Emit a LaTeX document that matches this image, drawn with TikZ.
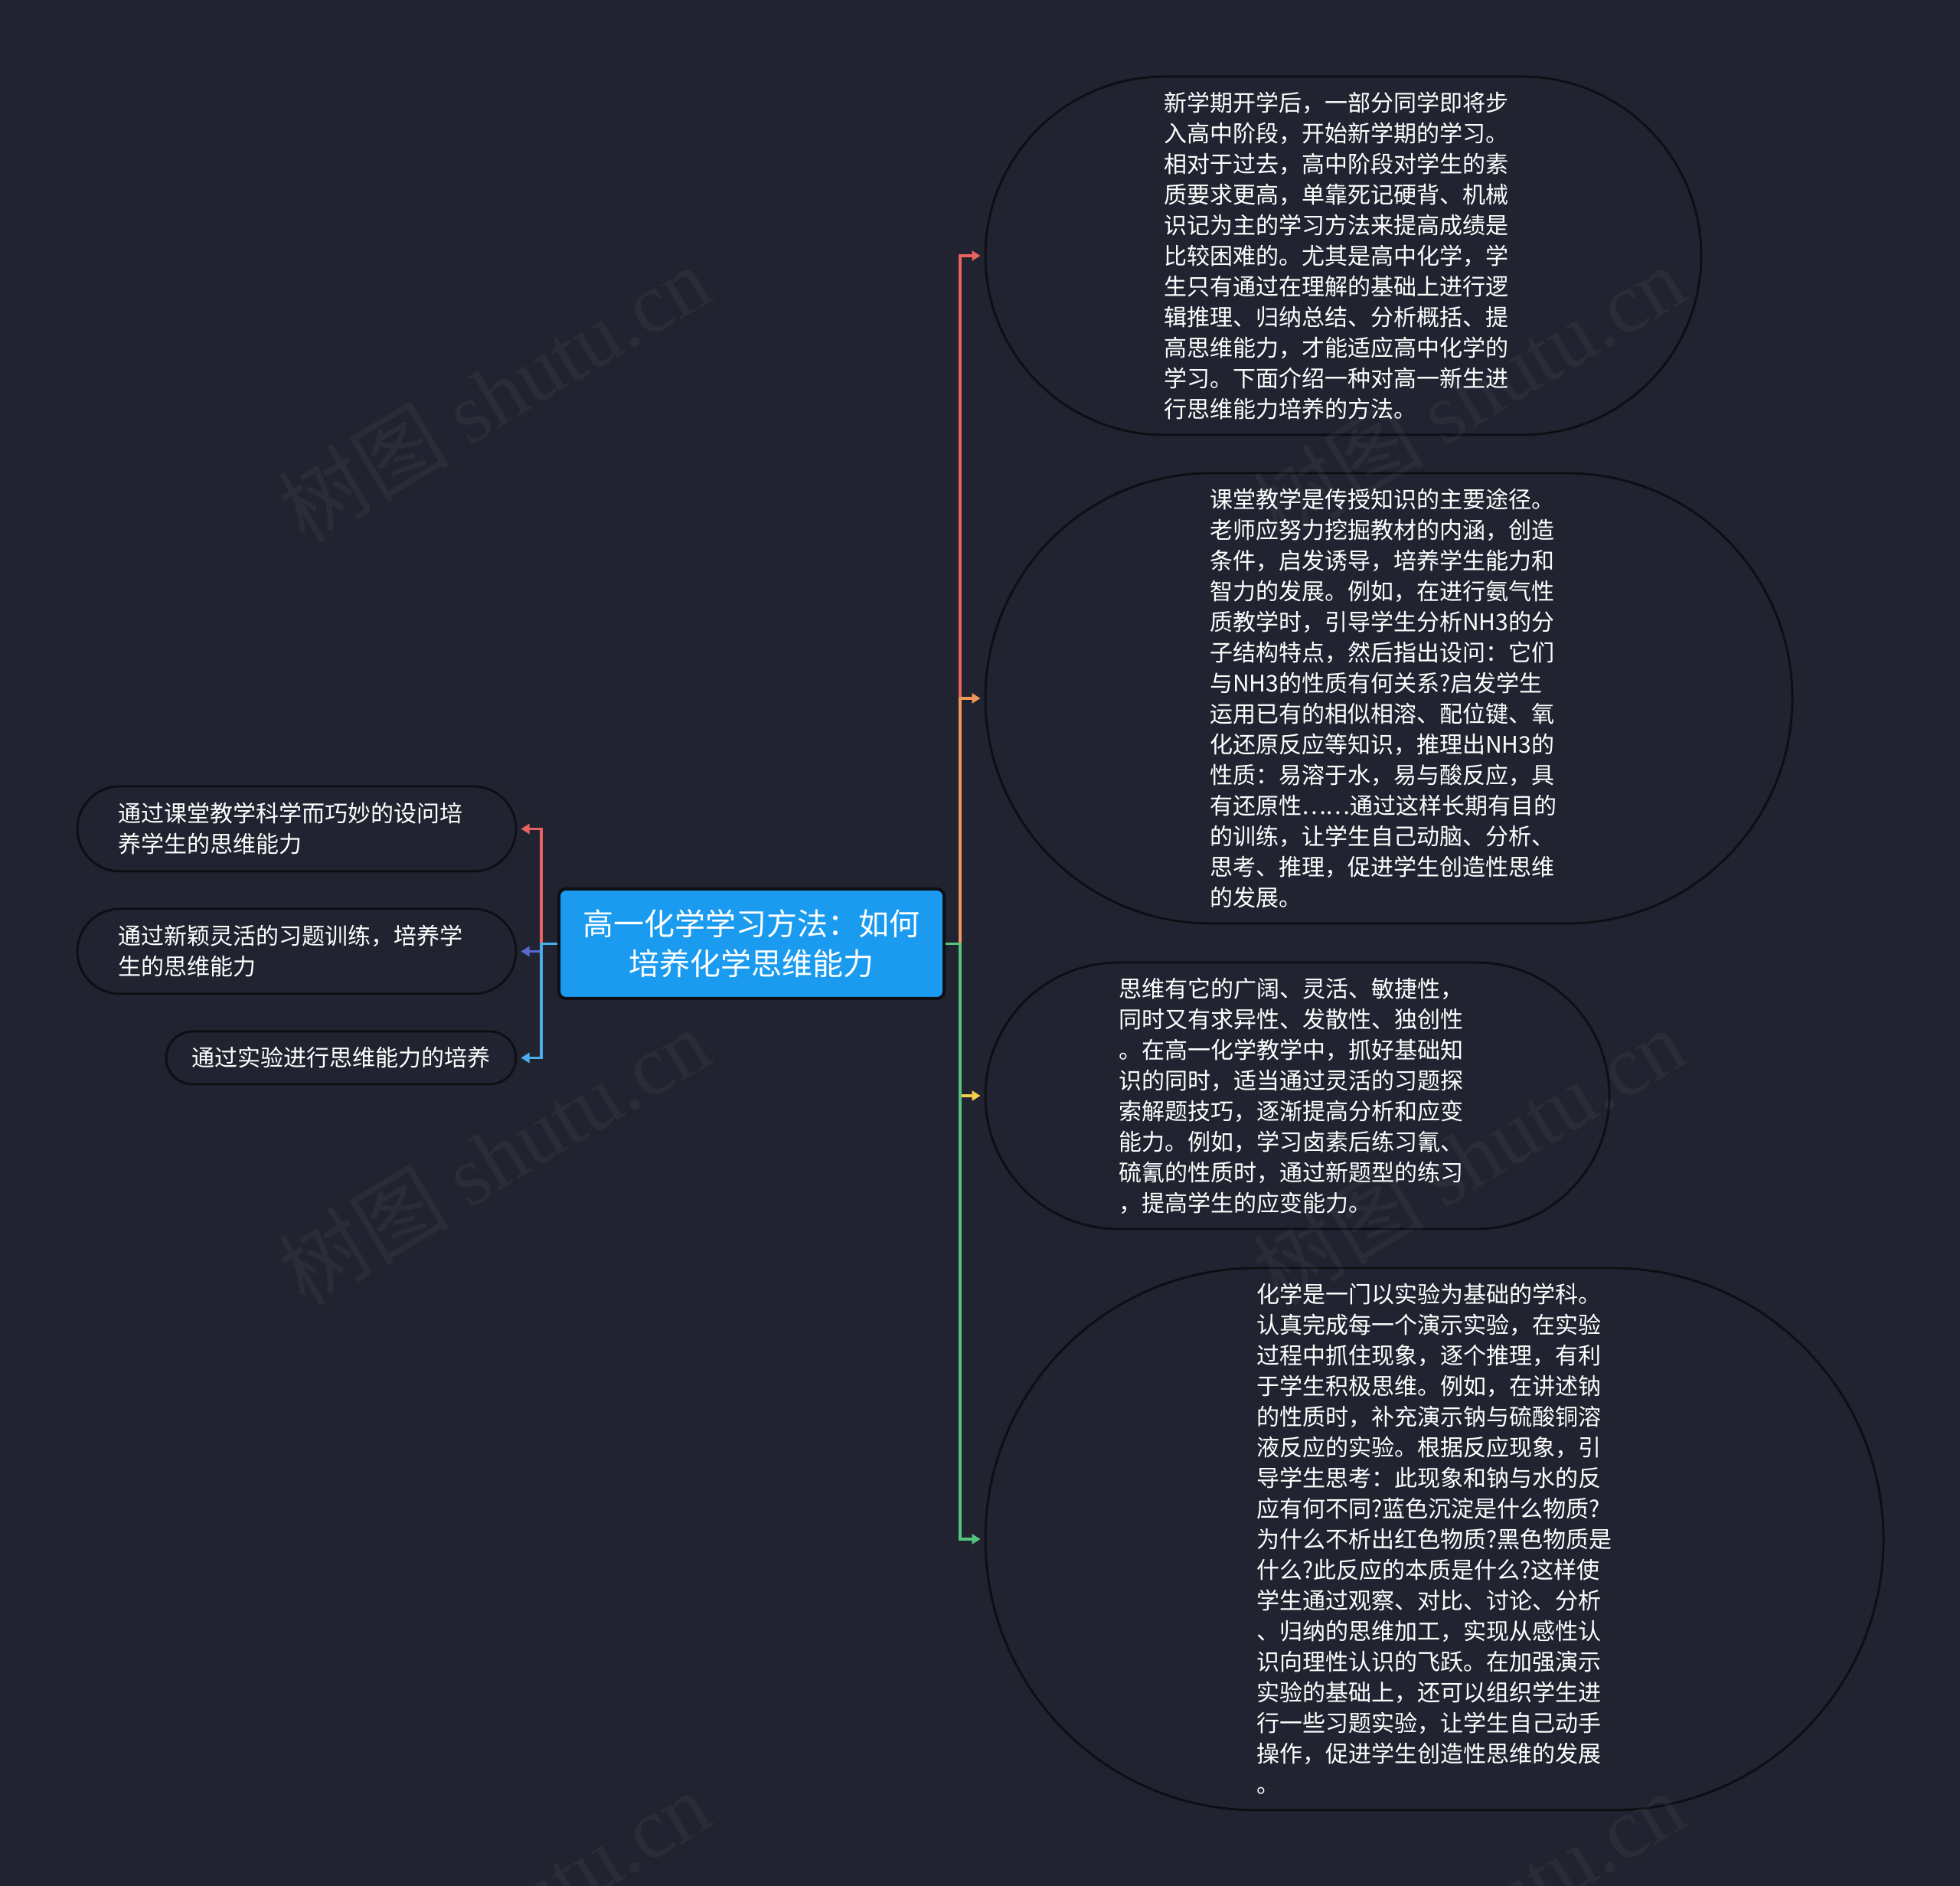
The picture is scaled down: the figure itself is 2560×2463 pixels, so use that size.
\documentclass[tikz,border=0pt]{standalone}
\usepackage{fontspec}
\setmainfont{Noto Sans CJK SC}
\newfontfamily\cjk{Noto Sans CJK SC}
\newfontfamily\wmserif{Liberation Serif}
\usetikzlibrary{arrows.meta,shapes.misc}
\definecolor{bgc}{HTML}{212430}
\definecolor{cred}{HTML}{E8625F}
\definecolor{corange}{HTML}{F0965A}
\definecolor{cyellow}{HTML}{F4CE48}
\definecolor{cgreen}{HTML}{52C67F}
\definecolor{cviolet}{HTML}{5A68D2}
\definecolor{cblue}{HTML}{4BAEEA}
\definecolor{cmain}{HTML}{1A9BF0}
\definecolor{edgec}{HTML}{0E0F14}
\tikzset{
  x=1pt,y=1pt,
  stad/.style={rounded rectangle, draw=edgec, line width=3pt, fill=bgc, inner sep=0pt},
  mainbox/.style={rectangle, rounded corners=9pt, draw=edgec, line width=4pt, fill=cmain,
    inner sep=0pt, text=white, align=center, font=\fontsize{40pt}{52pt}\selectfont},
  txt/.style={anchor=west, inner sep=0pt, align=left, text=white, font=\fontsize{30pt}{40pt}\selectfont},
  conn/.style={line width=3.5pt, shorten >=5pt, -{Triangle[length=11pt,width=13pt]}},
  wm/.style={rotate=31, text=white, opacity=0.045, font=\fontsize{112pt}{112pt}\selectfont}
}
\begin{document}
\begin{tikzpicture}
\useasboundingbox (0,0) rectangle (2560,2463);
\fill[bgc] (0,0) rectangle (2560,2463);

% central node
\node[mainbox, minimum width=503pt, minimum height=143pt] (c) at (981.5,1230.5)
  {高一化学学习方法：如何\\培养化学思维能力};

% right nodes
\node[stad, minimum width=935pt, minimum height=468pt] (r1) at (1754.5,2129) {};
\node[txt] (t1) at (1520,2129) {新学期开学后，一部分同学即将步\\入高中阶段，开始新学期的学习。\\相对于过去，高中阶段对学生的素\\质要求更高，单靠死记硬背、机械\\识记为主的学习方法来提高成绩是\\比较困难的。尤其是高中化学，学\\生只有通过在理解的基础上进行逻\\辑推理、归纳总结、分析概括、提\\高思维能力，才能适应高中化学的\\学习。下面介绍一种对高一新生进\\行思维能力培养的方法。};

\node[stad, minimum width=1054pt, minimum height=588pt] (r2) at (1814,1551) {};
\node[txt] (t2) at (1580,1551) {课堂教学是传授知识的主要途径。\\老师应努力挖掘教材的内涵，创造\\条件，启发诱导，培养学生能力和\\智力的发展。例如，在进行氨气性\\质教学时，引导学生分析NH3的分\\子结构特点，然后指出设问：它们\\与NH3的性质有何关系?启发学生\\运用已有的相似相溶、配位键、氧\\化还原反应等知识，推理出NH3的\\性质：易溶于水，易与酸反应，具\\有还原性……通过这样长期有目的\\的训练，让学生自己动脑、分析、\\思考、推理，促进学生创造性思维\\的发展。};

\node[stad, minimum width=815pt, minimum height=348pt] (r3) at (1694.5,1032) {};
\node[txt] (t3) at (1461,1032) {思维有它的广阔、灵活、敏捷性，\\同时又有求异性、发散性、独创性\\。在高一化学教学中，抓好基础知\\识的同时，适当通过灵活的习题探\\索解题技巧，逐渐提高分析和应变\\能力。例如，学习卤素后练习氰、\\硫氰的性质时，通过新题型的练习\\，提高学生的应变能力。};

\node[stad, minimum width=1173pt, minimum height=708pt] (r4) at (1873.5,453) {};
\node[txt] (t4) at (1641,453) {化学是一门以实验为基础的学科。\\认真完成每一个演示实验，在实验\\过程中抓住现象，逐个推理，有利\\于学生积极思维。例如，在讲述钠\\的性质时，补充演示钠与硫酸铜溶\\液反应的实验。根据反应现象，引\\导学生思考：此现象和钠与水的反\\应有何不同?蓝色沉淀是什么物质?\\为什么不析出红色物质?黑色物质是\\什么?此反应的本质是什么?这样使\\学生通过观察、对比、讨论、分析\\、归纳的思维加工，实现从感性认\\识向理性认识的飞跃。在加强演示\\实验的基础上，还可以组织学生进\\行一些习题实验，让学生自己动手\\操作，促进学生创造性思维的发展\\。};

% left nodes
\node[stad, minimum width=573pt, minimum height=111pt] (l1) at (387.5,1380.5) {};
\node[txt] (s1) at (154,1380.5) {通过课堂教学科学而巧妙的设问培\\养学生的思维能力};
\node[stad, minimum width=573pt, minimum height=111pt] (l2) at (387.5,1220.5) {};
\node[txt] (s2) at (154,1220.5) {通过新颖灵活的习题训练，培养学\\生的思维能力};
\node[stad, minimum width=457pt, minimum height=69pt] (l3) at (445.5,1081.5) {};
\node[txt] (s3) at (250,1081.5) {通过实验进行思维能力的培养};

% connectors right
\draw[conn, cred] (c.east) -- ([xshift=19pt]c.east) |- (r1.west);
\draw[conn, corange] (c.east) -- ([xshift=19pt]c.east) |- (r2.west);
\draw[conn, cyellow] (c.east) -- ([xshift=19pt]c.east) |- (r3.west);
\draw[conn, cgreen] (c.east) -- ([xshift=19pt]c.east) |- (r4.west);
% connectors left
\draw[conn, cred] (c.west) -- ([xshift=-21pt]c.west) |- (l1.east);
\draw[conn, cviolet] (c.west) -- ([xshift=-21pt]c.west) |- (l2.east);
\draw[conn, cblue] (c.west) -- ([xshift=-21pt]c.west) |- (l3.east);

% watermarks
\foreach \wx/\wy [count=\i] in {645/1949, 645/953, 645/-43, 1918/1949, 1918/953, 1918/-43}{
  \node[wm] (wm\i) at (\wx,\wy) {{\cjk 树图} {\wmserif shutu.cn}};
}
\end{tikzpicture}
\end{document}
